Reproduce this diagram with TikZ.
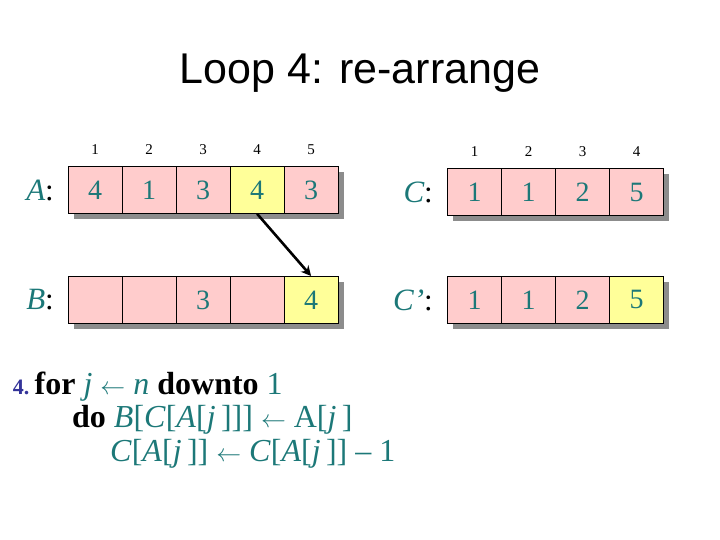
\documentclass[tikz,border=0pt]{standalone}
\usepackage{fontspec}
\setmainfont{Liberation Serif}
\newfontfamily\titlefont{Liberation Sans}
\usetikzlibrary{arrows.meta}
\definecolor{tealc}{RGB}{28,120,120}
\definecolor{pinkc}{RGB}{255,204,204}
\definecolor{yellowc}{RGB}{255,255,153}
\definecolor{shadowc}{RGB}{140,140,140}
\definecolor{bluec}{RGB}{51,51,153}
\begin{document}
\begin{tikzpicture}[x=1pt,y=-1pt,
  cell/.style={draw=black, line width=0.8pt, fill=pinkc, minimum width=54pt, minimum height=47pt,
    inner sep=0pt, text=tealc, font=\fontsize{28}{28}\selectfont, anchor=north west},
  hl/.style={fill=yellowc},
  idx/.style={font=\fontsize{15}{15}\selectfont, inner sep=0pt},
  rowlabel/.style={anchor=east, inner sep=0pt, font=\fontsize{31}{31}\selectfont},
  shadow/.style={fill=shadowc, draw=none},
  code/.style={anchor=base west, inner sep=0pt, font=\fontsize{32}{32}\selectfont, text=tealc}]
\useasboundingbox (0,0) rectangle (720,540);
% title
\node[font=\titlefont\fontsize{43}{43}\selectfont, anchor=base, inner sep=0pt] (title) at (360,84) {Loop 4: re-arrange};
% shadows
\fill[shadow] (73.7,172) rectangle (343.7,219.3);
\fill[shadow] (73.7,282) rectangle (343.7,329.3);
\fill[shadow] (453.3,174.3) rectangle (669.3,221.3);
\fill[shadow] (453.3,282) rectangle (669.3,329.3);
% A row
\node[cell] (A1) at (67.7,166) {4};
\node[cell] (A2) at (121.7,166) {1};
\node[cell] (A3) at (175.7,166) {3};
\node[cell,hl] (A4) at (229.7,166) {4};
\node[cell] (A5) at (283.7,166) {3};
% B row
\node[cell] (B1) at (67.7,276) {};
\node[cell] (B2) at (121.7,276) {};
\node[cell] (B3) at (175.7,276) {3};
\node[cell] (B4) at (229.7,276) {};
\node[cell,hl] (B5) at (283.7,276) {4};
% C row
\node[cell] (C1) at (447.3,168.3) {1};
\node[cell] (C2) at (501.3,168.3) {1};
\node[cell] (C3) at (555.3,168.3) {2};
\node[cell] (C4) at (609.3,168.3) {5};
% C' row
\node[cell] (D1) at (447.3,276) {1};
\node[cell] (D2) at (501.3,276) {1};
\node[cell] (D3) at (555.3,276) {2};
\node[cell,hl] (D4) at (609.3,276) {5};
% indices
\foreach \i in {1,...,5} \node[idx] (ia\i) at (A\i.north |- 0,150) {\i};
\foreach \i in {1,...,4} \node[idx] (ic\i) at (C\i.north |- 0,151.5) {\i};
% row labels
\node[rowlabel] (la) at (54,190) {\textit{\color{tealc}A}:};
\node[rowlabel] (lb) at (54,300) {\textit{\color{tealc}B}:};
\node[rowlabel] (lc) at (433,192) {\textit{\color{tealc}C}:};
\node[rowlabel] (ld) at (433,300) {\textit{\color{tealc}C'}:};
% arrow
\draw[line width=2.6pt, -{Stealth[length=10pt,width=10pt]}] (A4.south) -- (B5.north);
% pseudocode
\node[code] (l1) at (12.7,394) {{\color{bluec}\fontsize{22}{22}\selectfont\bfseries 4.}\,\textcolor{black}{\bfseries for} \textit{j} $\leftarrow$ \textit{n} \textcolor{black}{\bfseries downto} 1};
\node[code] (l2) at (72,427) {\textcolor{black}{\bfseries do} \textit{B}[\textit{C}[\textit{A}[\textit{j}\,]]] $\leftarrow$ A[\textit{j}\,]};
\node[code] (l3) at (110,461) {\textit{C}[\textit{A}[\textit{j}\,]] $\leftarrow$ \textit{C}[\textit{A}[\textit{j}\,]] -- 1};
\end{tikzpicture}
\end{document}
